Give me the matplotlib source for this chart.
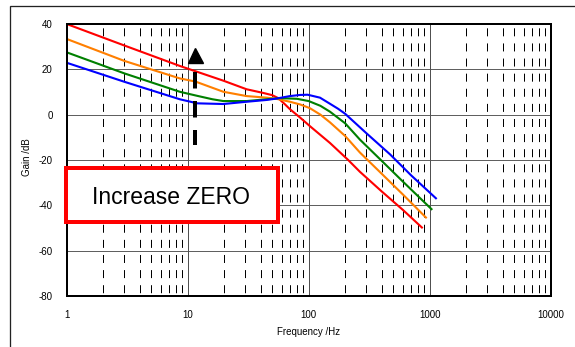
import matplotlib
matplotlib.use("Agg")
import matplotlib.pyplot as plt
from matplotlib.patches import Rectangle

plt.rcParams['lines.scale_dashes'] = False
plt.rcParams['font.family'] = ['Liberation Sans', 'DejaVu Sans']

# ---------------- data ----------------
freq_red = [1, 3, 8.6, 19.7, 30.7, 42, 50, 56, 63, 70, 85, 102, 150, 212, 265, 400, 600, 875]
gain_red = [40, 30.5, 21.5, 15.0, 11.2, 9.6, 8.6, 7.3, 4.8, 2.4, -1.3, -5.0, -12.5, -20.0, -25.2, -33.8, -42.0, -50.1]

freq_orange = [1, 3, 8.6, 11.6, 19.7, 30.7, 45, 54, 70, 85, 102, 125, 150, 200, 265, 400, 600, 944]
gain_orange = [33.4, 23.7, 16.0, 14.6, 10.1, 8.2, 7.5, 7.0, 5.7, 4.5, 2.9, 0.0, -3.4, -9.4, -16.7, -26.0, -35.2, -45.7]

freq_green = [1, 3, 8.6, 12, 16, 19.7, 30.7, 45, 58, 80, 100, 125, 150, 200, 265, 400, 600, 1050]
gain_green = [27.5, 18.2, 10.1, 8.3, 6.8, 6.0, 6.0, 6.8, 7.3, 7.0, 6.0, 3.9, 1.3, -3.8, -11.0, -20.3, -29.5, -42.0]

freq_blue = [1, 3, 8.6, 12, 19.7, 30.7, 45, 54, 70, 85, 98, 124, 150, 175, 200, 300, 470, 700, 1142]
gain_blue = [22.9, 14.5, 6.8, 5.0, 4.7, 5.7, 6.5, 7.1, 8.2, 8.7, 8.8, 7.5, 4.8, 2.6, 0.4, -8.2, -17.5, -26.7, -37.2]

x_ticks = [1, 10, 100, 1000, 10000]
x_tick_labels = ["1", "10", "100", "1000", "10000"]
y_ticks = [-80, -60, -40, -20, 0, 20, 40]
y_tick_labels = ["-80", "-60", "-40", "-20", "0", "20", "40"]

series = [
    (freq_red, gain_red, "#FF0000"),
    (freq_orange, gain_orange, "#FF7F00"),
    (freq_green, gain_green, "#008000"),
    (freq_blue, gain_blue, "#0000FF"),
]

# annotation (arrow) position
arrow_f = 11.6
arrow_head_db = 26.3
arrow_shaft_top = 19.0
arrow_shaft_bottom = -13.3

W, H = 575, 347
DPI = 100
PX = 72.0 / DPI  # points per pixel

fig = plt.figure(figsize=(W / DPI, H / DPI), dpi=DPI)
fig.patch.set_facecolor("white")

# outer frame
fig.patches.append(Rectangle((10 / W, -0.1), 1.2, 1 - 5.7 / H + 0.1,
                             transform=fig.transFigure, fill=False,
                             edgecolor="#222222", linewidth=1.3 * PX, zorder=0))

ax = fig.add_axes([66.7 / W, (H - 296) / H, 484 / W, 272 / H])
ax.set_xscale("log")
ax.set_xlim(1, 10000)
ax.set_ylim(-80, 40)

# grid: horizontal
for yv in y_ticks[1:-1]:
    ax.axhline(yv, color="#606060", linewidth=1.0 * PX, zorder=1)
# grid: vertical major
for xv in x_ticks[1:-1]:
    ax.axvline(xv, color="#505050", linewidth=1.0 * PX, zorder=1)
# grid: vertical minor dashed
on = 8.0 * PX
off = 7.11 * PX
offset = (8.0 + 7.11 - 3.3) * PX
for dec in [1, 10, 100, 1000]:
    for m in range(2, 10):
        ax.axvline(dec * m, ymin=0, ymax=1, color="black", linewidth=1.0 * PX,
                   linestyle=(offset, (on, off)), zorder=1)

for f, g, c in series:
    ax.plot(f, g, color=c, linewidth=2.1 * PX, zorder=3,
            solid_joinstyle="round", solid_capstyle="butt")

# arrow
ax.plot([arrow_f], [arrow_head_db], marker="^", markersize=15 * PX,
        color="black", zorder=4, linestyle="none")
ax.plot([arrow_f, arrow_f], [arrow_shaft_top, arrow_shaft_bottom], color="black",
        linewidth=4 * PX, linestyle=(0, (16.5 * PX, 12.5 * PX)),
        dash_capstyle="butt", zorder=4)

ax.set_xticks(x_ticks)
ax.set_xticklabels(x_tick_labels)
ax.set_yticks(y_ticks)
ax.set_yticklabels(y_tick_labels)
ax.minorticks_off()
ax.tick_params(axis="both", length=0, labelsize=7, colors="black")
ax.tick_params(axis="y", pad=10)
ax.tick_params(axis="x", pad=10)
for sp in ax.spines.values():
    sp.set_linewidth(2.0 * PX)
    sp.set_color("black")
    sp.set_zorder(5)

fig.text(308.5 / W, 1 - 331.7 / H, "Frequency /Hz", ha="center", va="center",
         fontsize=7)
fig.text(27 / W, 1 - 157 / H, "Gain /dB", ha="center", va="center",
         rotation=90, fontsize=7)

# red text box
fig.patches.append(Rectangle((66 / W, 1 - 222 / H), 212 / W, 54 / H,
                             transform=fig.transFigure, facecolor="white",
                             edgecolor="#FF0000", linewidth=4 * PX, zorder=10))
fig.text(170.8 / W, 1 - 197.7 / H, "Increase ZERO", ha="center", va="center",
         fontsize=16.5, color="black", zorder=11)

fig.savefig("out.png", dpi=DPI)
